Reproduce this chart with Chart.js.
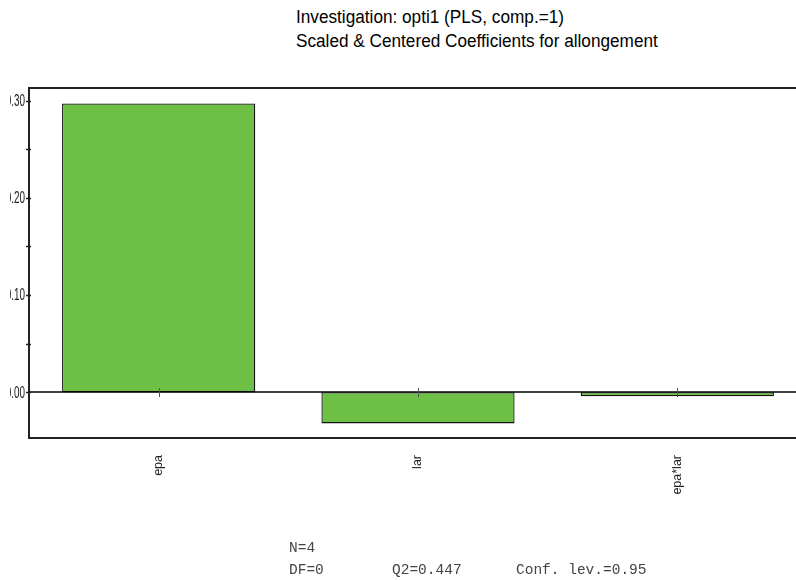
<!DOCTYPE html>
<html><head><meta charset="utf-8">
<script src="https://cdn.jsdelivr.net/npm/chart.js@4/dist/chart.umd.min.js"></script>
<style>
html,body{margin:0;padding:0;background:#fff;overflow:hidden;width:796px;height:580px;}
#wrap{position:absolute;left:0;top:0;width:812px;height:580px;}
.title{position:absolute;left:296px;font-family:"Liberation Sans",Arial,sans-serif;font-size:17.2px;color:#000;white-space:nowrap;transform:scaleY(1.05);transform-origin:left top;}
.stat{position:absolute;font-family:"Liberation Mono","Courier New",monospace;font-size:14.5px;color:#444;white-space:nowrap;}
</style></head><body>
<div class="title" style="top:6px">Investigation: opti1 (PLS, comp.=1)</div>
<div class="title" style="top:30px">Scaled &amp; Centered Coefficients for allongement</div>
<div id="wrap"><canvas id="c" width="812" height="580"></canvas></div>
<div class="stat" style="left:289px;top:540px">N=4</div>
<div class="stat" style="left:289px;top:562px">DF=0</div>
<div class="stat" style="left:392px;top:562px">Q2=0.447</div>
<div class="stat" style="left:516px;top:562px">Conf. lev.=0.95</div>
<script>
const categories = ["epa", "lar", "epa*lar"];
const coefficients = [0.297, -0.032, -0.004];
const yMajorTicks = [0, 0.1, 0.2, 0.3];
const yTickLabels = ["0.00", "0.10", "0.20", "0.30"];
const yMinorTicks = [0.05, 0.15, 0.25];

const framePlugin = {
  id: 'frame',
  afterDatasetsDraw(chart) {
    const ctx = chart.ctx, a = chart.chartArea;
    const y = chart.scales.y, x = chart.scales.x;
    ctx.save();
    // frame
    ctx.strokeStyle = '#222'; ctx.lineWidth = 2;
    ctx.beginPath();
    ctx.moveTo(a.right + 10, a.top); ctx.lineTo(a.left, a.top); ctx.lineTo(a.left, a.bottom); ctx.lineTo(a.right + 10, a.bottom);
    ctx.stroke();
    // zero line
    const y0 = Math.round(y.getPixelForValue(0));
    ctx.strokeStyle = '#000'; ctx.lineWidth = 1.5;
    ctx.beginPath(); ctx.moveTo(a.left, y0); ctx.lineTo(a.right + 10, y0); ctx.stroke();
    // category ticks
    ctx.strokeStyle = '#555'; ctx.lineWidth = 1;
    categories.forEach((c, i) => {
      const px = Math.round(x.getPixelForValue(i)) + 0.5;
      ctx.beginPath(); ctx.moveTo(px, y0 - 4); ctx.lineTo(px, y0 + 5); ctx.stroke();
    });
    // y ticks
    ctx.strokeStyle = '#222'; ctx.lineWidth = 1.5;
    yMajorTicks.concat(yMinorTicks).forEach(v => {
      const py = Math.round(y.getPixelForValue(v)) + 0.5;
      ctx.beginPath(); ctx.moveTo(a.left - 3, py); ctx.lineTo(a.left + 2, py); ctx.stroke();
    });
    // y labels (squeezed, clipped at left)
    ctx.save();
    ctx.beginPath(); ctx.rect(10, 0, a.left, 580); ctx.clip();
    ctx.fillStyle = '#222';
    ctx.font = '16px "Liberation Sans", Arial, sans-serif';
    ctx.textAlign = 'right'; ctx.textBaseline = 'middle';
    yMajorTicks.forEach((v, i) => {
      const py = y.getPixelForValue(v);
      ctx.save();
      ctx.translate(a.left - 4, py + 1);
      ctx.scale(0.62, 1);
      ctx.fillText(yTickLabels[i], 0, 0);
      ctx.restore();
    });
    ctx.restore();
    // category labels rotated -90
    ctx.fillStyle = '#222';
    ctx.font = '12.5px "Liberation Sans", Arial, sans-serif';
    ctx.textAlign = 'right'; ctx.textBaseline = 'middle';
    categories.forEach((c, i) => {
      const px = x.getPixelForValue(i);
      ctx.save();
      ctx.translate(px, a.bottom + 17);
      ctx.rotate(-Math.PI / 2);
      ctx.fillText(c, 0, 0);
      ctx.restore();
    });
    ctx.restore();
  }
};

new Chart(document.getElementById('c'), {
  type: 'bar',
  data: {
    labels: categories,
    datasets: [{
      data: coefficients,
      backgroundColor: '#6dbf45',
      borderColor: '#111',
      borderWidth: 1.3,
      borderSkipped: false,
      barPercentage: 1,
      categoryPercentage: 0.745
    }]
  },
  options: {
    responsive: false,
    animation: false,
    devicePixelRatio: 1,
    layout: { padding: { left: 29, right: 5, top: 88, bottom: 142 } },
    plugins: { legend: { display: false }, tooltip: { enabled: false }, title: { display: false } },
    scales: {
      x: { display: false, offset: true },
      y: { display: false, min: -0.047, max: 0.313 }
    }
  },
  plugins: [framePlugin]
});
</script>
</body></html>
